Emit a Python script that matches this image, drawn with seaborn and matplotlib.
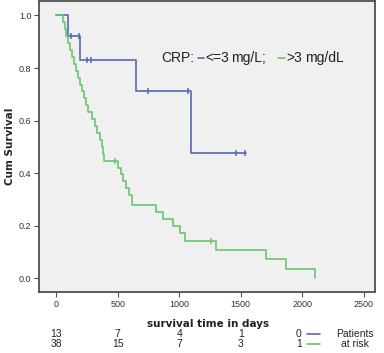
import numpy as np
import pandas as pd
import seaborn as sns
import matplotlib.pyplot as plt
from matplotlib.lines import Line2D

# Kaplan-Meier steps
low_time = [0, 97, 195, 650, 1100, 1540]
low_surv = [1.0, 0.923, 0.831, 0.712, 0.475, 0.475]
low_cens_time = [120, 185, 250, 285, 745, 1075, 1465, 1537]
low_cens_surv = [0.923, 0.923, 0.831, 0.831, 0.712, 0.712, 0.475, 0.475]

high_time = [0, 55, 70, 80, 95, 110, 125, 145, 165, 180, 195, 210, 225, 245,
             260, 290, 315, 330, 355, 370, 380, 390, 500, 525, 545, 565, 590,
             615, 813, 870, 951, 1008, 1049, 1300, 1707, 1870, 2100]
high_surv = [1.0, 0.974, 0.947, 0.921, 0.895, 0.868, 0.842, 0.816, 0.789,
             0.763, 0.737, 0.711, 0.684, 0.658, 0.632, 0.605, 0.579, 0.553,
             0.526, 0.500, 0.474, 0.447, 0.419, 0.395, 0.368, 0.342, 0.316,
             0.280, 0.251, 0.225, 0.198, 0.171, 0.141, 0.107, 0.072, 0.036,
             0.0]
high_cens_time = [480, 1260]
high_cens_surv = [0.447, 0.141]

groups = ["<=3 mg/L", ">3 mg/dL"]
colors = ["#5868B2", "#6CC46C"]

# numbers at risk
risk_ticks = [0, 500, 1000, 1500]
risk_low = [13, 7, 4, 1]
risk_high = [38, 15, 7, 3]

curves = pd.concat([
    pd.DataFrame({"time": low_time, "surv": low_surv, "group": groups[0]}),
    pd.DataFrame({"time": high_time, "surv": high_surv, "group": groups[1]}),
])
cens = pd.concat([
    pd.DataFrame({"time": low_cens_time, "surv": low_cens_surv, "group": groups[0]}),
    pd.DataFrame({"time": high_cens_time, "surv": high_cens_surv, "group": groups[1]}),
])

sns.set_style("ticks", {"axes.facecolor": "#F0F0F0", "axes.edgecolor": "#505050"})
plt.rcParams["font.family"] = ["Liberation Sans", "DejaVu Sans"]

W, H = 384, 353
fig = plt.figure(figsize=(W / 100, H / 100), dpi=100)
ax = fig.add_axes([0.102, 0.173, 0.875, 0.824])
pal = dict(zip(groups, colors))

sns.lineplot(data=curves, x="time", y="surv", hue="group", palette=pal,
             drawstyle="steps-post", estimator=None, linewidth=1.2,
             legend=False, ax=ax)
sns.scatterplot(data=cens, x="time", y="surv", hue="group", palette=pal,
                marker="|", s=20, linewidth=1.1, legend=False, ax=ax)

ax.set_xlim(-138, 2593)
ax.set_ylim(-0.053, 1.055)
ax.set_xticks([0, 500, 1000, 1500, 2000, 2500])
ax.set_yticks([0.0, 0.2, 0.4, 0.6, 0.8, 1.0])
ax.set_yticklabels(["0.0", "0.2", "0.4", "0.6", "0.8", "1.0"])
ax.tick_params(labelsize=6.5, length=3.5, width=0.8, color="#505050",
               labelcolor="#333333", pad=2)
for s in ax.spines.values():
    s.set_linewidth(1.3)
ax.set_xlabel("")
ax.set_ylabel("Cum Survival", family="DejaVu Sans", fontweight="bold",
              fontsize=7.5, labelpad=3)


def fx(px):
    return px / W


def fy(py):
    return 1 - py / H


# legend line inside the plot
ly = fy(58)
leg_kw = dict(fontsize=10, va="center", color="#222222")
fig.text(fx(161), ly, "CRP:", **leg_kw)
fig.add_artist(Line2D([fx(198), fx(204)], [ly, ly], color=colors[0], lw=1.2))
fig.text(fx(205), ly, "<=3", **leg_kw)
fig.text(fx(231), ly, "mg/L;", **leg_kw)
fig.add_artist(Line2D([fx(278), fx(285)], [ly, ly], color=colors[1], lw=1.2))
fig.text(fx(286), ly, ">3", **leg_kw)
fig.text(fx(305), ly, "mg/dL", **leg_kw)

# x label
fig.text(fx(208), fy(324), "survival time in days", family="DejaVu Sans",
         fontweight="bold", fontsize=7.5, ha="center", va="center", color="#222222")

# number at risk table, aligned with the x ticks
for t, a, b in zip(risk_ticks, risk_low, risk_high):
    x_disp = ax.transData.transform((t, 0))[0] / fig.dpi / (W / 100)
    fig.text(x_disp, fy(334), str(a), ha="center", va="center", fontsize=7.5,
             color="#222222")
    fig.text(x_disp, fy(344), str(b), ha="center", va="center", fontsize=7.5,
             color="#222222")

for row_y, lab, col, word in [(334, "0", colors[0], "Patients"), (344, "1", colors[1], "at risk")]:
    fig.text(fx(299), fy(row_y), lab, fontsize=7.5, ha="center", va="center",
             color="#222222")
    fig.add_artist(Line2D([fx(307), fx(320)], [fy(row_y), fy(row_y)], color=col, lw=1.2))
    fig.text(fx(355), fy(row_y), word, fontsize=7.5, ha="center", va="center",
             color="#222222")

fig.savefig("out.png", dpi=100)
